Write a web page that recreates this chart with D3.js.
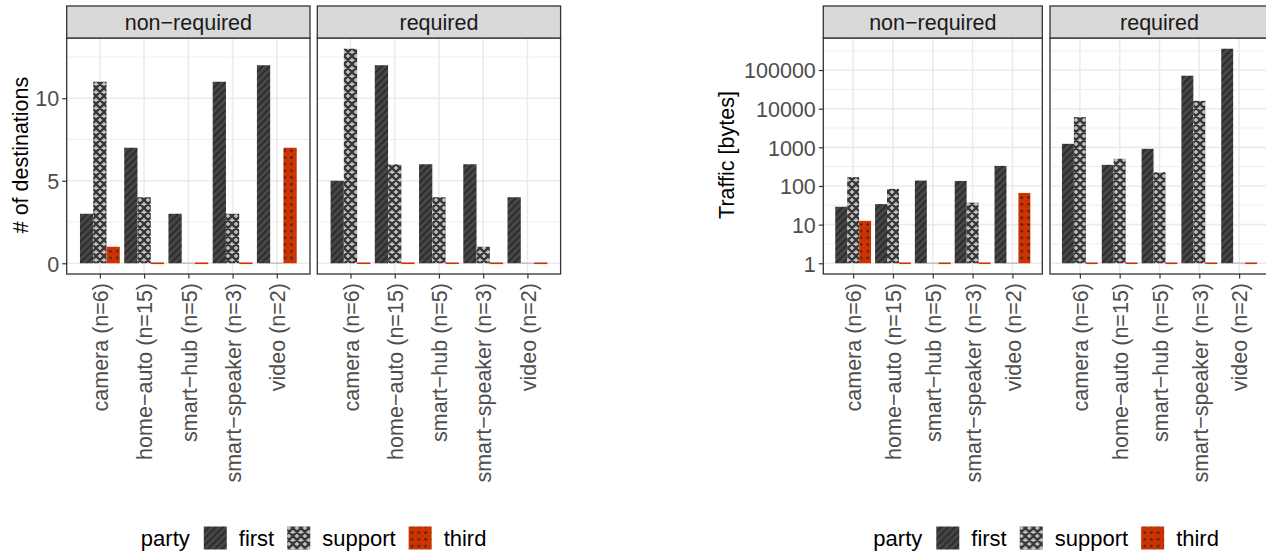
<!DOCTYPE html>
<html>
<head>
<meta charset="utf-8">
<script src="https://cdn.jsdelivr.net/npm/d3@7"></script>
<style>
  body { margin: 0; background: #ffffff; }
  svg { display: block; }
  text { font-family: "Liberation Sans", Arial, Helvetica, sans-serif; }
</style>
</head>
<body>
<svg id="fig" width="1266" height="556"></svg>
<script>
// ---- data ---------------------------------------------------------------
const categories = ["camera (n=6)", "home\u2212auto (n=15)", "smart\u2212hub (n=5)", "smart\u2212speaker (n=3)", "video (n=2)"];
const facets = ["non\u2212required", "required"];
const parties = ["first", "support", "third"];

// number of destinations per category
const destFirstNonReq   = [3, 7, 3, 11, 12];
const destSupportNonReq = [11, 4, 0, 3, 0];
const destThirdNonReq   = [1, 0, 0, 0, 7];
const destFirstReq      = [5, 12, 6, 6, 4];
const destSupportReq    = [13, 6, 4, 1, 0];
const destThirdReq      = [0, 0, 0, 0, 0];

// traffic volume per category (bytes)
const trafficFirstNonReq   = [29, 34, 138, 135, 331];
const trafficSupportNonReq = [169, 84, 0, 37, 0];
const trafficThirdNonReq   = [12.5, 0, 0, 0, 66];
const trafficFirstReq      = [1234, 352, 915, 71300, 356000];
const trafficSupportReq    = [6030, 505, 228, 16000, 0];
const trafficThirdReq      = [0, 0, 0, 0, 0];

const destTicks = [0, 5, 10];
const destMinorTicks = [2.5, 7.5, 12.5];
const trafficTicks = [1, 10, 100, 1000, 10000, 100000];
const trafficTickLabels = ["1", "10", "100", "1000", "10000", "100000"];

// ---- layout & style -----------------------------------------------------
const STRIP_TOP = 6, PANEL_TOP = 38, PANEL_BOTTOM = 274;
const GRID = "#ebebeb", BORDER = "#333333", TICK_TEXT = "#4d4d4d";
const FONT = 21.5, LEGEND_FONT = 22;

const svg = d3.select("#fig");
const defs = svg.append("defs");

// fill patterns for the three parties
(function buildPatterns() {
  const p1 = defs.append("pattern").attr("id", "pat-first")
    .attr("patternUnits", "userSpaceOnUse").attr("width", 7).attr("height", 7);
  p1.append("rect").attr("width", 7).attr("height", 7).attr("fill", "#474747");
  p1.append("path").attr("d", "M-1,8 L8,-1 M-2,2 L2,-2 M5,9 L9,5")
    .attr("stroke", "#2e2e2e").attr("stroke-width", 2.2);

  const p2 = defs.append("pattern").attr("id", "pat-support")
    .attr("patternUnits", "userSpaceOnUse").attr("width", 8).attr("height", 8);
  p2.append("rect").attr("width", 8).attr("height", 8).attr("fill", "#c0c0c0");
  p2.append("path").attr("d", "M0,0 L8,8 M8,0 L0,8 M-1,7 L1,9 M7,-1 L9,1 M-1,1 L1,-1 M7,9 L9,7")
    .attr("stroke", "#363636").attr("stroke-width", 2.3);

  const p3 = defs.append("pattern").attr("id", "pat-third")
    .attr("patternUnits", "userSpaceOnUse").attr("width", 6.7).attr("height", 6.7);
  p3.append("rect").attr("width", 6.7).attr("height", 6.7).attr("fill", "#cc3300");
  p3.append("circle").attr("cx", 3.35).attr("cy", 3.35).attr("r", 1.25).attr("fill", "#33241d");
})();

const partyFill = { first: "url(#pat-first)", support: "url(#pat-support)", third: "url(#pat-third)" };
const zeroColor = { first: "#4a4a4a", support: "#c4c4c4", third: "#cc3300" };

function drawChart(cfg) {
  const g = svg.append("g");
  const y = cfg.y;

  cfg.panels.forEach((panel, pi) => {
    const x0 = cfg.left + pi * (cfg.width + cfg.gap);
    const x1 = x0 + cfg.width;
    const x = d3.scalePoint().domain(categories).range([x0, x1]).padding(0.75);
    const step = x.step();
    const pg = g.append("g");

    // panel background and grid
    pg.append("rect").attr("x", x0).attr("y", PANEL_TOP)
      .attr("width", cfg.width).attr("height", PANEL_BOTTOM - PANEL_TOP).attr("fill", "#ffffff");
    cfg.minor.forEach(v => {
      pg.append("line").attr("x1", x0).attr("x2", x1).attr("y1", y(v)).attr("y2", y(v))
        .attr("stroke", GRID).attr("stroke-width", 0.8);
    });
    cfg.ticks.forEach(v => {
      pg.append("line").attr("x1", x0).attr("x2", x1).attr("y1", y(v)).attr("y2", y(v))
        .attr("stroke", GRID).attr("stroke-width", 1.6);
    });
    categories.forEach(c => {
      pg.append("line").attr("x1", x(c)).attr("x2", x(c)).attr("y1", PANEL_TOP).attr("y2", PANEL_BOTTOM)
        .attr("stroke", GRID).attr("stroke-width", 1.6);
    });

    // dodged bars
    const base = y(cfg.base);
    const bw = step * 0.3;
    parties.forEach((party, j) => {
      const vals = panel.series[j];
      categories.forEach((c, i) => {
        const v = vals[i];
        const bx = x(c) + (j - 1) * bw - bw / 2;
        if (v > 0) {
          const top = y(v);
          pg.append("rect").attr("x", bx).attr("y", top).attr("width", bw)
            .attr("height", base - top).attr("fill", partyFill[party]);
        } else {
          pg.append("rect").attr("x", bx).attr("y", base - 0.8).attr("width", bw)
            .attr("height", 1.6).attr("fill", zeroColor[party]);
        }
      });
    });

    // panel border
    pg.append("rect").attr("x", x0).attr("y", PANEL_TOP)
      .attr("width", cfg.width).attr("height", PANEL_BOTTOM - PANEL_TOP)
      .attr("fill", "none").attr("stroke", BORDER).attr("stroke-width", 1.3);

    // facet strip
    pg.append("rect").attr("x", x0).attr("y", STRIP_TOP)
      .attr("width", cfg.width).attr("height", PANEL_TOP - STRIP_TOP)
      .attr("fill", "#d9d9d9").attr("stroke", BORDER).attr("stroke-width", 1.3);
    pg.append("text").attr("x", (x0 + x1) / 2).attr("y", (STRIP_TOP + PANEL_TOP) / 2)
      .attr("dy", "0.36em").attr("text-anchor", "middle")
      .attr("font-size", FONT).attr("fill", "#1a1a1a").text(panel.title);

    // x axis
    const xAxis = d3.axisBottom(x).tickSize(4.5).tickPadding(4);
    const xa = pg.append("g").attr("transform", `translate(0,${PANEL_BOTTOM})`).call(xAxis);
    xa.select(".domain").remove();
    xa.selectAll(".tick line").attr("stroke", BORDER).attr("stroke-width", 1.2);
    xa.selectAll(".tick text")
      .attr("font-size", FONT).attr("font-family", null).attr("fill", TICK_TEXT)
      .attr("text-anchor", "end").attr("transform", "rotate(-90)")
      .attr("x", -9).attr("y", 0).attr("dy", "0.36em");

    // y axis on the first panel only
    if (pi === 0) {
      const yAxis = d3.axisLeft(y).tickValues(cfg.ticks).tickSize(4.5).tickPadding(3)
        .tickFormat((d, k) => cfg.tickLabels[k]);
      const ya = pg.append("g").attr("transform", `translate(${x0},0)`).call(yAxis);
      ya.select(".domain").remove();
      ya.selectAll(".tick line").attr("stroke", BORDER).attr("stroke-width", 1.2);
      ya.selectAll(".tick text").attr("font-size", FONT).attr("font-family", null)
        .attr("fill", TICK_TEXT).attr("dy", "0.36em");
    }
  });

  // y axis title
  g.append("text")
    .attr("transform", `translate(${cfg.titleX},${(STRIP_TOP + PANEL_BOTTOM) / 2 + 15}) rotate(-90)`)
    .attr("text-anchor", "middle").attr("dy", "0.36em")
    .attr("font-size", FONT).attr("fill", "#000000").text(cfg.yTitle);

  // legend, centred under the panels
  const lg = g.append("g");
  const keySize = 23, ly = 538;
  let cx = 0;
  const title = lg.append("text").attr("x", cx).attr("y", ly).attr("dy", "0.36em")
    .attr("font-size", LEGEND_FONT).attr("fill", "#000").text("party");
  cx += title.node().getComputedTextLength() + 14;
  parties.forEach((party, j) => {
    lg.append("rect").attr("x", cx).attr("y", ly - keySize / 2)
      .attr("width", keySize).attr("height", keySize).attr("fill", partyFill[party]);
    cx += keySize + 12;
    const t = lg.append("text").attr("x", cx).attr("y", ly).attr("dy", "0.36em")
      .attr("font-size", LEGEND_FONT).attr("fill", "#000").text(party);
    cx += t.node().getComputedTextLength() + (j < parties.length - 1 ? 13 : 0);
  });
  const totalW = 2 * cfg.width + cfg.gap;
  const centre = cfg.left + totalW / 2;
  lg.attr("transform", `translate(${centre - cx / 2},0)`);
}

// linear chart: number of destinations
const destMax = d3.max([destFirstNonReq, destSupportNonReq, destThirdNonReq, destFirstReq, destSupportReq, destThirdReq].flat());
const yDest = d3.scaleLinear()
  .domain([-0.05 * destMax, 1.05 * destMax])
  .range([PANEL_BOTTOM, PANEL_TOP]);

drawChart({
  left: 66.7, width: 243.3, gap: 7.3, titleX: 20.5,
  y: yDest, base: 0, ticks: destTicks, minor: destMinorTicks,
  tickLabels: destTicks.map(String), yTitle: "# of destinations",
  panels: [
    { title: facets[0], series: [destFirstNonReq, destSupportNonReq, destThirdNonReq] },
    { title: facets[1], series: [destFirstReq, destSupportReq, destThirdReq] }
  ]
});

// log chart: traffic volume
const trafficMax = d3.max([trafficFirstNonReq, trafficSupportNonReq, trafficThirdNonReq, trafficFirstReq, trafficSupportReq, trafficThirdReq].flat());
const lmax = Math.log10(trafficMax);
const yTraffic = d3.scaleLog()
  .domain([Math.pow(10, -0.05 * lmax), Math.pow(10, 1.05 * lmax)])
  .range([PANEL_BOTTOM, PANEL_TOP]);
const trafficMinor = d3.range(0, 6).map(k => Math.pow(10, k + 0.5))
  .filter(v => v < yTraffic.domain()[1]);

drawChart({
  left: 823.3, width: 219, gap: 7.7, titleX: 726.7,
  y: yTraffic, base: 1, ticks: trafficTicks, minor: trafficMinor,
  tickLabels: trafficTickLabels, yTitle: "Traffic [bytes]",
  panels: [
    { title: facets[0], series: [trafficFirstNonReq, trafficSupportNonReq, trafficThirdNonReq] },
    { title: facets[1], series: [trafficFirstReq, trafficSupportReq, trafficThirdReq] }
  ]
});
</script>
</body>
</html>
